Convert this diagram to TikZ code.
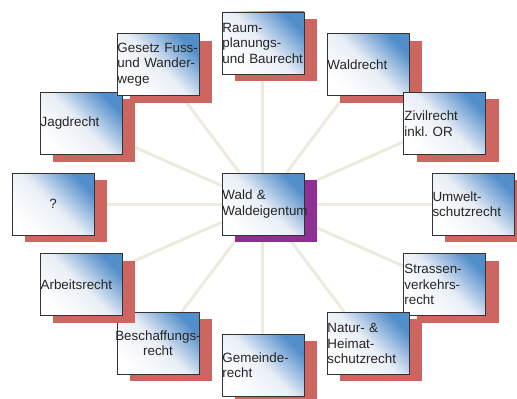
\documentclass[tikz,border=0pt]{standalone}
\usepackage{fontspec}
\setmainfont{Liberation Sans}
\usetikzlibrary{shadows,backgrounds}

\definecolor{shadowred}{RGB}{205,102,97}
\definecolor{hubpurple}{RGB}{142,48,146}
\definecolor{spokegray}{RGB}{238,234,222}
\definecolor{boxblue}{RGB}{82,142,202}
\definecolor{boxmid}{RGB}{233,238,246}

\tikzset{
        boxbase/.style={draw=black!80, line width=0.9pt,
                minimum width=82pt, minimum height=62pt,
                text width=81pt, inner xsep=0.5pt, inner ysep=0pt,
                font=\fontsize{13.4}{15.5}\selectfont, text=black!85,
                top color=boxblue, bottom color=white, middle color=boxmid,
                shading angle=-45},
        rechtbox/.style={boxbase,
                general shadow={fill=shadowred, shadow xshift=13pt, shadow yshift=-7pt}},
        hubbox/.style={boxbase,
                general shadow={fill=hubpurple, shadow xshift=13pt, shadow yshift=-7pt}},
        spoke/.style={draw=spokegray, line width=3pt}
}

\begin{document}
\begin{tikzpicture}
        \useasboundingbox (-263pt,-195pt) rectangle (254pt,204pt);

        \node[hubbox, align=left] (wald) at (0,0) {Wald \&\\Waldeigentum};

        % the twelve fields around the forest
        \foreach \angle/\id/\al/\lbl in {
                90/raum/left/{Raum-\\planungs-\\und Baurecht},
                60/waldr/left/{Waldrecht},
                30/zivil/left/{Zivilrecht\\inkl.\ OR},
                0/umwelt/left/{Umwelt-\\schutzrecht},
                -30/strasse/left/{Strassen-\\verkehrs-\\recht},
                -60/natur/left/{Natur- \&\\Heimat-\\schutzrecht},
                -90/gemeinde/left/{Gemeinde-\\recht},
                -120/beschaff/center/{\makebox[81pt]{Beschaffungs-}\\recht},
                -150/arbeit/left/{Arbeitsrecht},
                180/frage/center/{?},
                150/jagd/left/{Jagdrecht},
                120/gesetz/left/{Gesetz Fuss-\\und Wander-\\wege}}{
                \node[rechtbox, align=\al] (\id) at (\angle:210pt and 161pt) {\lbl};
                \begin{pgfonlayer}{background}
                        \draw[spoke] (wald) -- (\id);
                \end{pgfonlayer}
            }

\end{tikzpicture}
\end{document}
